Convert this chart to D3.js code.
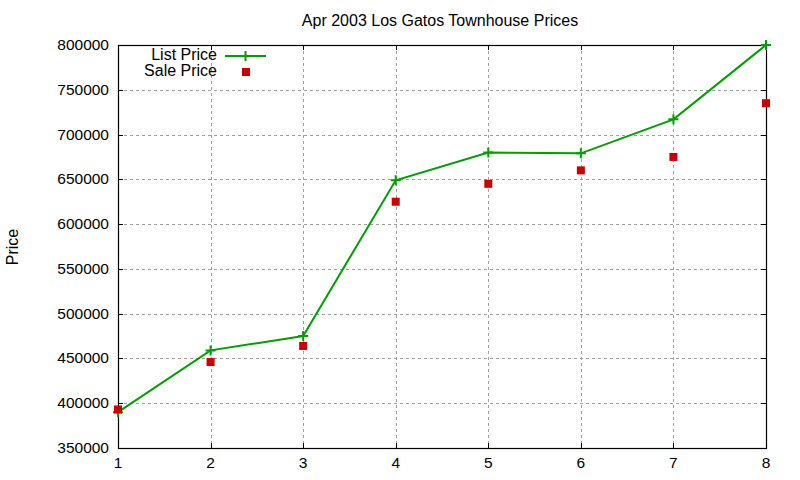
<!DOCTYPE html>
<html lang="en">
<head>
<meta charset="UTF-8">
<title>Apr 2003 Los Gatos Townhouse Prices</title>
<script src="https://d3js.org/d3.v7.min.js"></script>
<style>
  body, html { margin: 0; padding: 0; background: #fff; overflow: hidden; }
  svg { display: block; font-family: "Liberation Sans", Arial, sans-serif; }
  .grid line { stroke: #a0a0a0; stroke-width: 1; stroke-dasharray: 3,3; }
  .tick-label { font-size: 15.5px; fill: #000; }
</style>
</head>
<body>
<svg width="800" height="480"></svg>
<script>
  const months = [1, 2, 3, 4, 5, 6, 7, 8];
  const listPrice = [390000, 459000, 475000, 649000, 680000, 679000, 717000, 800000];
  const salePrice = [393000, 446000, 464000, 625000, 645000, 660000, 675000, 735000];
  const yTicks = [350000, 400000, 450000, 500000, 550000, 600000, 650000, 700000, 750000, 800000];

  const svg = d3.select("svg");
  const plotL = 118, plotR = 766, plotT = 45, plotB = 448;

  const x = d3.scaleLinear().domain([1, 8]).range([plotL, plotR]);
  const y = d3.scaleLinear().domain([350000, 800000]).range([plotB, plotT]);

  // grid
  const grid = svg.append("g").attr("class", "grid");
  grid.selectAll(".gy").data(yTicks.slice(1, -1)).enter().append("line")
    .attr("x1", plotL).attr("x2", plotR)
    .attr("y1", d => Math.round(y(d)) + 0.5).attr("y2", d => Math.round(y(d)) + 0.5);
  grid.selectAll(".gx").data(months.slice(1, -1)).enter().append("line")
    .attr("y1", plotT).attr("y2", plotB)
    .attr("x1", d => Math.round(x(d)) + 0.5).attr("x2", d => Math.round(x(d)) + 0.5);

  // ticks (mirrored, inward)
  const tl = 5;
  const ticks = svg.append("g").attr("stroke", "#000").attr("stroke-width", 1);
  yTicks.forEach(v => {
    const yy = Math.round(y(v)) + 0.5;
    ticks.append("line").attr("x1", plotL).attr("x2", plotL + tl).attr("y1", yy).attr("y2", yy);
    ticks.append("line").attr("x1", plotR).attr("x2", plotR - tl).attr("y1", yy).attr("y2", yy);
  });
  months.forEach(v => {
    const xx = Math.round(x(v)) + 0.5;
    ticks.append("line").attr("x1", xx).attr("x2", xx).attr("y1", plotB).attr("y2", plotB - tl);
    ticks.append("line").attr("x1", xx).attr("x2", xx).attr("y1", plotT).attr("y2", plotT + tl);
  });

  // tick labels
  svg.append("g").selectAll("text").data(yTicks).enter().append("text")
    .attr("class", "tick-label")
    .attr("x", plotL - 9).attr("y", d => y(d) + 5)
    .attr("text-anchor", "end")
    .text(d => d);
  svg.append("g").selectAll("text").data(months).enter().append("text")
    .attr("class", "tick-label")
    .attr("x", d => x(d)).attr("y", plotB + 20)
    .attr("text-anchor", "middle")
    .text(d => d);

  // frame
  svg.append("rect")
    .attr("x", plotL + 0.5).attr("y", plotT + 0.5)
    .attr("width", plotR - plotL).attr("height", plotB - plotT)
    .attr("fill", "none").attr("stroke", "#000").attr("stroke-width", 1.2);

  // title & y label
  svg.append("text").attr("x", 440).attr("y", 26).attr("text-anchor", "middle")
    .style("font-size", "16px").text("Apr 2003 Los Gatos Townhouse Prices");
  svg.append("text").attr("transform", "translate(18,247) rotate(-90)")
    .attr("text-anchor", "middle").style("font-size", "16px").text("Price");

  // list price line
  const green = "#00a000", red = "#cc0000";
  const line = d3.line().x((d, i) => x(months[i])).y(d => y(d));
  svg.append("path").datum(listPrice)
    .attr("d", line).attr("fill", "none")
    .attr("stroke", green).attr("stroke-width", 2);

  function cross(g, cx, cy) {
    g.append("path")
      .attr("d", `M${cx - 5},${cy}H${cx + 5}M${cx},${cy - 5}V${cy + 5}`)
      .attr("stroke", green).attr("stroke-width", 2);
  }
  const pts = svg.append("g");
  listPrice.forEach((v, i) => cross(pts, x(months[i]), y(v)));

  // sale price squares
  svg.append("g").selectAll("rect").data(salePrice).enter().append("rect")
    .attr("x", (d, i) => x(months[i]) - 4).attr("y", d => y(d) - 4)
    .attr("width", 8).attr("height", 8).attr("fill", red);

  // legend
  const lg = svg.append("g").style("font-size", "16px");
  lg.append("text").attr("x", 217).attr("y", 60).attr("text-anchor", "end").text("List Price");
  lg.append("line").attr("x1", 225).attr("x2", 266).attr("y1", 56).attr("y2", 56)
    .attr("stroke", green).attr("stroke-width", 2);
  cross(lg, 245.5, 56);
  lg.append("text").attr("x", 217).attr("y", 76).attr("text-anchor", "end").text("Sale Price");
  lg.append("rect").attr("x", 242).attr("y", 68).attr("width", 8).attr("height", 8).attr("fill", red);
</script>
</body>
</html>
